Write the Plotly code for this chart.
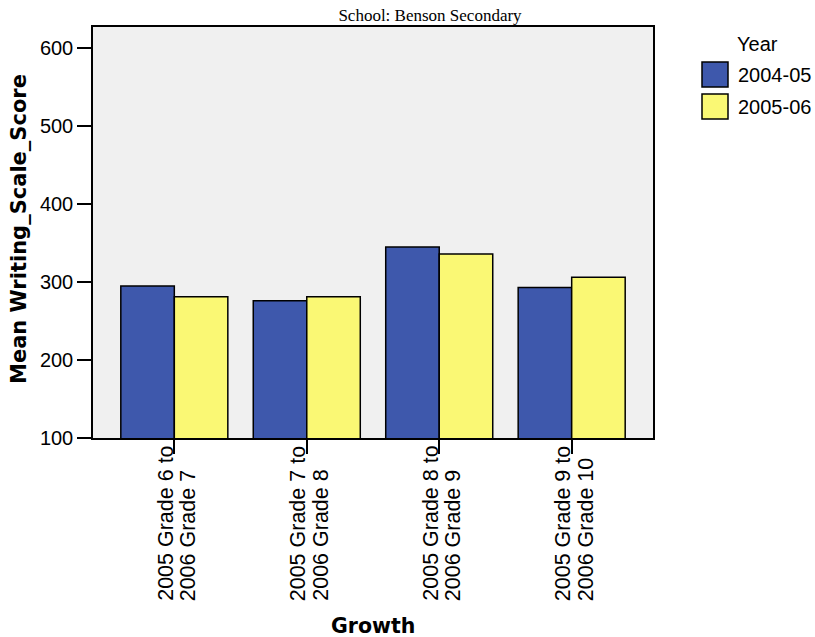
import plotly.graph_objects as go

categories = ["2005 Grade 6 to 2006 Grade 7", "2005 Grade 7 to 2006 Grade 8",
              "2005 Grade 8 to 2006 Grade 9", "2005 Grade 9 to 2006 Grade 10"]
label_line1 = ["2005 Grade 6 to", "2005 Grade 7 to", "2005 Grade 8 to", "2005 Grade 9 to"]
label_line2 = ["2006 Grade 7", "2006 Grade 8", "2006 Grade 9", "2006 Grade 10"]
series_names = ["2004-05", "2005-06"]
values_2004_05 = [295, 276, 345, 293]
values_2005_06 = [281, 281, 336, 306]
y_ticks = [100, 200, 300, 400, 500, 600]
y_tick_labels = ["100", "200", "300", "400", "500", "600"]

BLUE = "#3E58AC"
YELLOW = "#FAF874"
SANS = "Liberation Sans, Arial, sans-serif"
WIDE_BOLD = "DejaVu Sans, Liberation Sans, sans-serif"

fig = go.Figure()
for name, vals, col in [(series_names[0], values_2004_05, BLUE),
                        (series_names[1], values_2005_06, YELLOW)]:
    fig.add_trace(go.Bar(x=categories, y=vals, name=name, marker_color=col,
                         marker_line=dict(color="black", width=1.5),
                         showlegend=False))

# plot area geometry (px): x 93..653, y 27..438
L, R, T, B = 93, 653, 27, 438
W, H = R - L, B - T
def px(xp): return (xp - L) / W
def py(yp): return (B - yp) / H

annotations = []
# rotated x tick labels, two lines each, bottom-aligned
for cat, l1, l2 in zip(categories, label_line1, label_line2):
    annotations.append(dict(x=cat, xref="x", y=py(603), yref="paper", text=l1,
                            textangle=-90, showarrow=False, xanchor="center",
                            yanchor="bottom", xshift=-9,
                            font=dict(family=SANS, size=21.5, color="black")))
    annotations.append(dict(x=cat, xref="x", y=py(603), yref="paper", text=l2,
                            textangle=-90, showarrow=False, xanchor="center",
                            yanchor="bottom", xshift=14,
                            font=dict(family=SANS, size=21.5, color="black")))

# axis titles
annotations.append(dict(x=px(373), y=py(626), xref="paper", yref="paper",
                        text="<b>Growth</b>", showarrow=False,
                        xanchor="center", yanchor="middle",
                        font=dict(family=WIDE_BOLD, size=20.5, color="black")))
annotations.append(dict(x=px(19), y=py(229), xref="paper", yref="paper",
                        text="<b>Mean Writing_Scale_Score</b>", showarrow=False,
                        textangle=-90, xanchor="center", yanchor="middle",
                        font=dict(family=WIDE_BOLD, size=21, color="black")))

# legend
annotations.append(dict(x=px(735), y=py(44), xref="paper", yref="paper",
                        text="Year", showarrow=False, xanchor="left",
                        yanchor="middle", font=dict(family=SANS, size=20, color="black")))
shapes = []
leg_rows = [(series_names[0], BLUE, 62, 87), (series_names[1], YELLOW, 94, 119)]
for name, col, y0, y1 in leg_rows:
    shapes.append(dict(type="rect", xref="paper", yref="paper",
                       x0=px(702), x1=px(728), y0=py(y1), y1=py(y0),
                       fillcolor=col, line=dict(color="black", width=1.5)))
    annotations.append(dict(x=px(736), y=py((y0 + y1) / 2), xref="paper", yref="paper",
                            text=name, showarrow=False, xanchor="left",
                            yanchor="middle", font=dict(family=SANS, size=20, color="black")))

fig.update_layout(
    width=815, height=637,
    margin=dict(l=L, r=815 - R, t=T, b=637 - B, autoexpand=False),
    paper_bgcolor="white", plot_bgcolor="#F0F0F0",
    barmode="group", bargap=0.192, bargroupgap=0,
    title=dict(text="School: Benson Secondary", x=px(430), xref="paper",
               xanchor="center", y=1 - 15 / 637, yanchor="middle",
               font=dict(family="Liberation Serif, Times New Roman, serif", size=17, color="black")),
    annotations=annotations, shapes=shapes,
    xaxis=dict(range=[-0.614, 3.614], showticklabels=False, ticks="outside",
               ticklen=14, tickcolor="black", tickwidth=1.5,
               showline=True, linecolor="black", linewidth=1.5, mirror=True,
               showgrid=False, zeroline=False, automargin=False),
    yaxis=dict(range=[100, 626.9], tickvals=y_ticks, ticktext=y_tick_labels,
               ticks="outside", ticklen=14, tickcolor="black", tickwidth=1.5,
               tickfont=dict(family=SANS, size=20, color="black"),
               showline=True, linecolor="black", linewidth=1.5, mirror=True,
               showgrid=False, zeroline=False, automargin=False),
)

fig.write_html("out.html", config={"displayModeBar": False},
               post_script="document.body.style.margin='0px';document.body.style.overflow='hidden';")
